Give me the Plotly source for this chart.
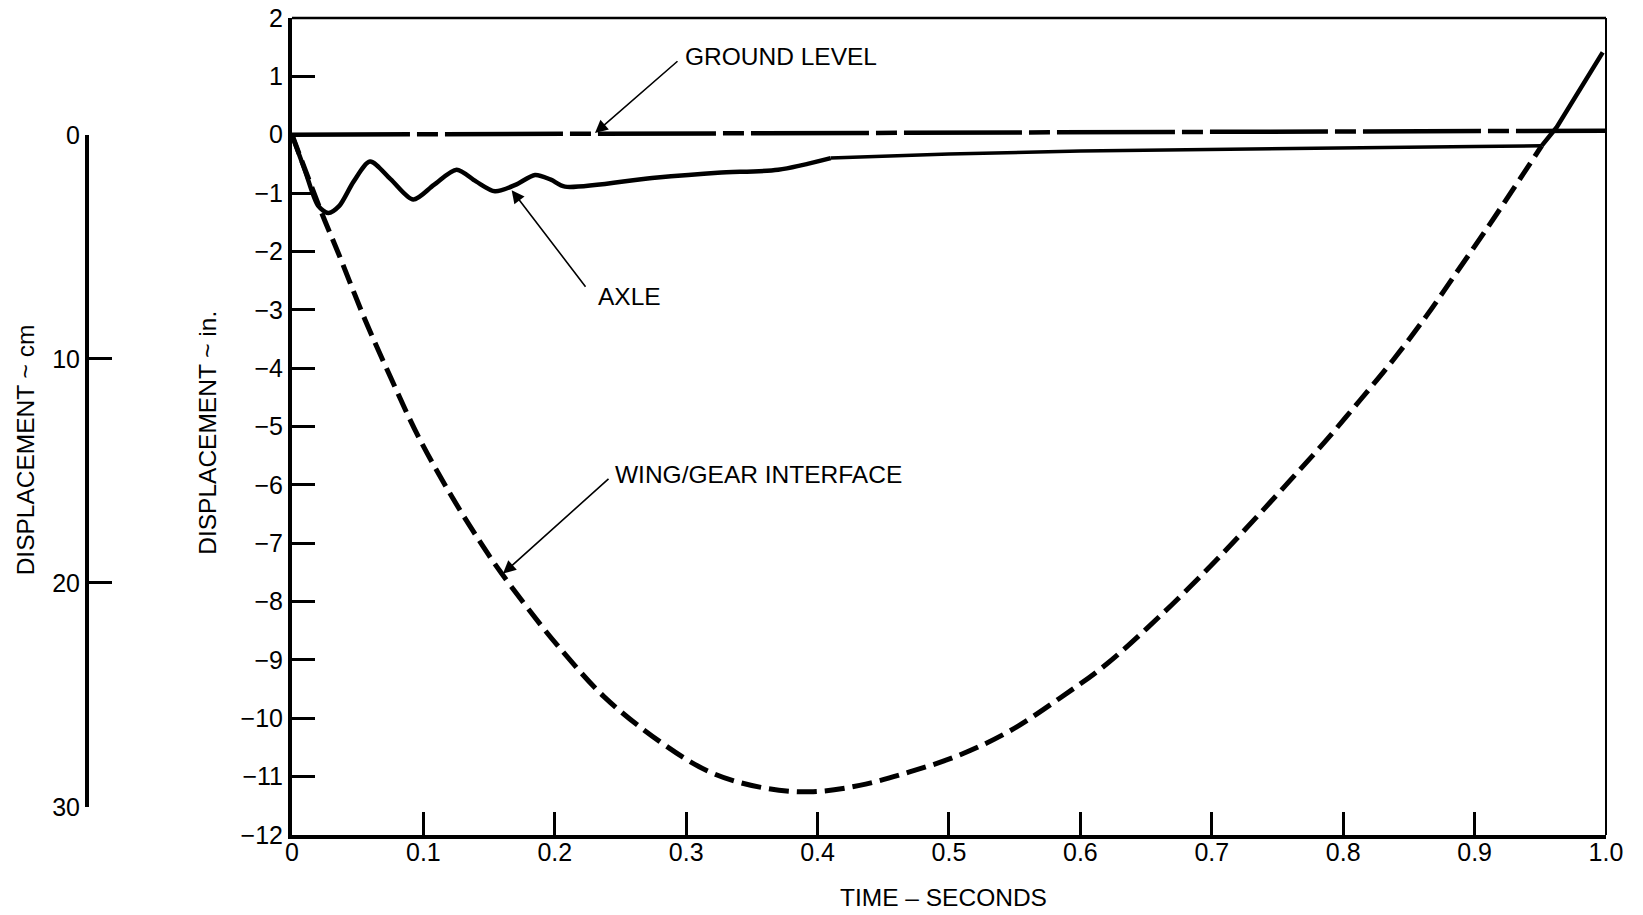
import plotly.graph_objects as go

# Time axis (seconds)
tick_t = [0, 0.1, 0.2, 0.3, 0.4, 0.5, 0.6, 0.7, 0.8, 0.9, 1.0]
tick_t_text = ["0", "0.1", "0.2", "0.3", "0.4", "0.5", "0.6", "0.7", "0.8", "0.9", "1.0"]
tick_in = list(range(-12, 3))
tick_cm = [0, 10, 20, 30]

# Ground level
ground_t = [0.0, 1.0]
ground_y = [0.0, 0.07]

# Axle displacement (in.)
axle_t = [0.0, 0.010, 0.020, 0.0277, 0.036, 0.047, 0.0594, 0.075, 0.0923, 0.108, 0.1253,
          0.140, 0.1545, 0.170, 0.185, 0.197, 0.2078, 0.274, 0.324, 0.370, 0.410,
          0.500, 0.600, 0.700, 0.800, 0.900, 0.951]
axle_y = [0.0, -0.62, -1.22, -1.34, -1.22, -0.80, -0.46, -0.76, -1.11, -0.86, -0.60,
          -0.80, -0.97, -0.86, -0.69, -0.77, -0.89, -0.74, -0.65, -0.60, -0.40,
          -0.33, -0.28, -0.25, -0.22, -0.20, -0.19]

# Wing/gear interface displacement (in.)
wing_t = [0.0, 0.0226, 0.0353, 0.0556, 0.0759, 0.0961, 0.119, 0.1418, 0.1596, 0.1925,
          0.204, 0.237, 0.280, 0.318, 0.356, 0.394, 0.432, 0.470, 0.508, 0.546, 0.584,
          0.620, 0.660, 0.700, 0.735, 0.767, 0.785, 0.8128, 0.838, 0.8635, 0.886,
          0.909, 0.9295, 0.951, 0.9625, 0.9975]
wing_y = [0.0, -1.34, -2.03, -3.17, -4.20, -5.17, -6.10, -6.93, -7.52, -8.49,
          -8.80, -9.62, -10.40, -10.92, -11.18, -11.26, -11.15, -10.92, -10.63, -10.22, -9.66,
          -9.07, -8.26, -7.37, -6.53, -5.74, -5.29, -4.55, -3.86, -3.10, -2.37,
          -1.62, -0.93, -0.19, 0.13, 1.41]

SOLID_FROM = 0.951  # wing curve is drawn solid above the axle line

FONT = "Liberation Sans, Arial, sans-serif"
NARROW = "Liberation Sans Narrow, Arial Narrow, Liberation Sans, sans-serif"
TICK_FONT = dict(family=NARROW, size=25, color="black")
TXT_FONT = dict(family=FONT, size=24.5, color="black")

fig = go.Figure()

fig.add_trace(go.Scatter(
    x=ground_t, y=ground_y, mode="lines",
    line=dict(color="black", width=4.5, dash="118px,7px,21px,7px"),
    hoverinfo="skip", showlegend=False))

# Axle: heavy oscillating part, then lighter settling part
split = axle_t.index(0.410)
fig.add_trace(go.Scatter(
    x=axle_t[:split + 1], y=axle_y[:split + 1], mode="lines",
    line=dict(color="black", width=4.5, shape="spline", smoothing=0.8),
    hoverinfo="skip", showlegend=False))
fig.add_trace(go.Scatter(
    x=axle_t[split:], y=axle_y[split:], mode="lines",
    line=dict(color="black", width=3.5),
    hoverinfo="skip", showlegend=False))

k = wing_t.index(SOLID_FROM)
fig.add_trace(go.Scatter(
    x=wing_t[:k + 1], y=wing_y[:k + 1], mode="lines",
    line=dict(color="black", width=5, dash="20px,8px", shape="spline", smoothing=1.0),
    hoverinfo="skip", showlegend=False))
fig.add_trace(go.Scatter(
    x=wing_t[k:], y=wing_y[k:], mode="lines",
    line=dict(color="black", width=4.5),
    hoverinfo="skip", showlegend=False))

# Invisible trace so the centimetre scale is laid out
fig.add_trace(go.Scatter(
    x=[0, 0], y=[tick_cm[0], tick_cm[-1]], yaxis="y2", mode="markers",
    marker=dict(opacity=0), hoverinfo="skip", showlegend=False))

axis_common = dict(
    ticks="inside", ticklen=23, tickwidth=2.5, tickcolor="black",
    showline=True, linewidth=4, linecolor="black",
    showgrid=False, zeroline=False, tickfont=TICK_FONT,
    automargin=False, fixedrange=True)

fig.update_layout(
    template="none",
    width=1643, height=915,
    margin=dict(l=40, r=37, t=18, b=80),
    paper_bgcolor="white", plot_bgcolor="rgba(0,0,0,0)",
    showlegend=False,
    xaxis=dict(domain=[0.1609, 1.0], range=[0, 1], tickvals=tick_t,
               ticktext=tick_t_text, ticklabelstandoff=-8, **axis_common),
    yaxis=dict(range=[-12, 2], tickvals=tick_in, **axis_common),
    yaxis2=dict(domain=[0.0343, 0.8568], range=[30, 0], tickvals=tick_cm,
                anchor="free", position=0.030, side="left", **axis_common),
)

# Light top and right frame lines
fig.add_shape(type="line", xref="x domain", yref="y domain", x0=0, x1=1, y0=1, y1=1,
              line=dict(color="black", width=2.5))
fig.add_shape(type="line", xref="x domain", yref="y domain", x0=1, x1=1, y0=0, y1=1,
              line=dict(color="black", width=2))

# Leader arrows (head on the curve, tail offset in px)
arrows = [
    dict(x=0.2306, y=0.03, ax=84, ay=-73),
    dict(x=0.1672, y=-0.95, ax=75, ay=98),
    dict(x=0.1606, y=-7.52, ax=107, ay=-96),
]
for a in arrows:
    fig.add_annotation(
        text="", x=a["x"], y=a["y"], xref="x", yref="y",
        ax=a["ax"], ay=a["ay"], axref="pixel", ayref="pixel",
        showarrow=True, arrowhead=2, arrowsize=1.6, arrowwidth=1.6, arrowcolor="black")

# Curve labels
labels = [
    dict(text="GROUND LEVEL", x=0.2975, y=1.345),
    dict(text="AXLE", x=0.2312, y=-2.77),
    dict(text="WING/GEAR INTERFACE", x=0.2440, y=-5.83),
]
for lb in labels:
    fig.add_annotation(text=lb["text"], x=lb["x"], y=lb["y"], xref="x", yref="y",
                       showarrow=False, xanchor="left", yanchor="middle", font=TXT_FONT)

# Axis titles
fig.add_annotation(text="DISPLACEMENT ~ in.", xref="paper", yref="paper",
                   x=0.1073, y=0.4924, textangle=-90, showarrow=False,
                   xanchor="center", yanchor="middle", font=TXT_FONT)
fig.add_annotation(text="DISPLACEMENT ~ cm", xref="paper", yref="paper",
                   x=-0.0096, y=0.472, textangle=-90, showarrow=False,
                   xanchor="center", yanchor="middle", font=TXT_FONT)
fig.add_annotation(text="TIME \u2013 SECONDS", xref="paper", yref="paper",
                   x=0.577, y=-0.077, showarrow=False,
                   xanchor="center", yanchor="middle", font=TXT_FONT)

fig.write_html("out.html")
